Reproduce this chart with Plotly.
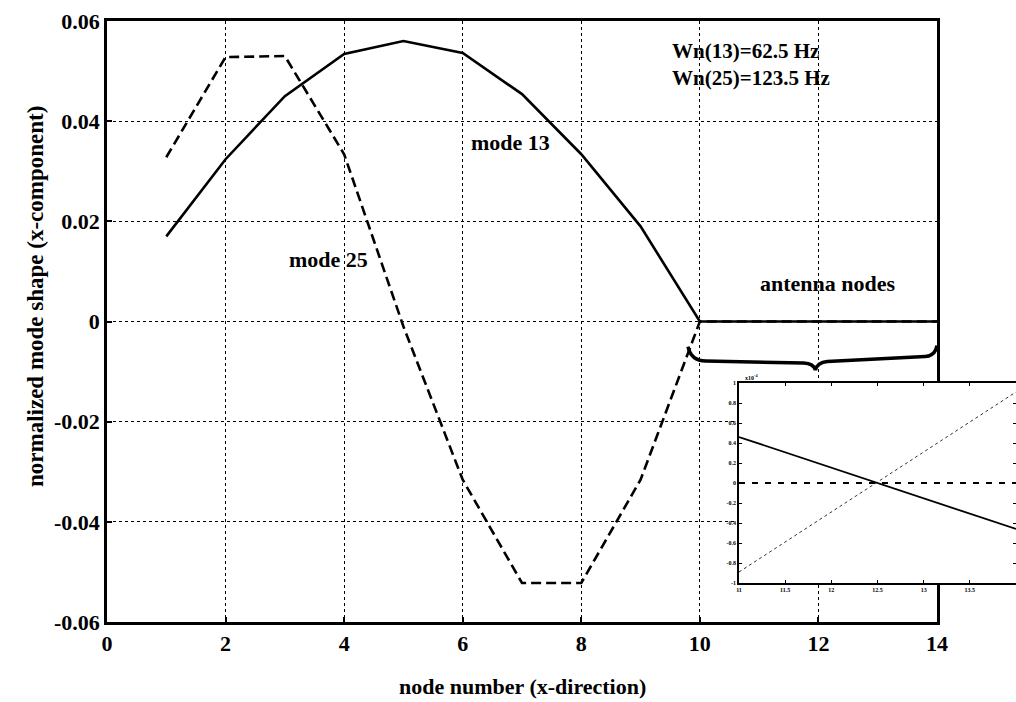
import plotly.graph_objects as go

# ---------------- data ----------------
nodes = list(range(1, 15))
mode13 = [0.0170, 0.0324, 0.0450, 0.0534, 0.0560, 0.0536, 0.0454, 0.0334, 0.0190,
          0.0000, 0.0000, 0.0000, 0.0000, 0.0000]
mode25 = [0.0328, 0.0528, 0.0530, 0.0334, -0.0010, -0.0316, -0.0522, -0.0522, -0.0316,
          0.0000, 0.0000, 0.0000, 0.0000, 0.0000]

x_tick_vals = [0, 2, 4, 6, 8, 10, 12, 14]
y_tick_vals = [-0.06, -0.04, -0.02, 0, 0.02, 0.04, 0.06]
y_tick_text = ["-0.06", "-0.04", "-0.02", "0", "0.02", "0.04", "0.06"]

# inset (x10^-4)
inset_x = [11, 14]
inset_solid = [0.46, -0.46]
inset_dashed = [0.0, 0.0]
inset_dotted = [-0.89, 0.91]
inset_x_ticks = [11, 11.5, 12, 12.5, 13, 13.5]
inset_x_text = ["11", "11.5", "12", "12.5", "13", "13.5"]
inset_y_ticks = [-1, -0.8, -0.6, -0.4, -0.2, 0, 0.2, 0.4, 0.6, 0.8, 1]
inset_y_text = ["-1", "-0.8", "-0.6", "-0.4", "-0.2", "0", "0.2", "0.4", "0.6", "0.8", "1"]

# ---------------- layout geometry ----------------
W, H = 1016, 702
ML, MR, MT, MB = 107, 0, 21, 80
PW = W - ML - MR
PH = H - MT - MB
main_right_px = 937
inset_left_px, inset_top_px, inset_bottom_px = 739, 383, 583

def px_x(p):
    return (p - ML) / PW

def px_y(p):
    return (H - MB - p) / PH

FONT = "Liberation Serif"

fig = go.Figure()

fig.add_trace(go.Scatter(x=nodes, y=mode25, mode="lines",
                         line=dict(color="black", width=2.6, dash="10px,5px"),
                         hoverinfo="skip", showlegend=False))
fig.add_trace(go.Scatter(x=nodes, y=mode13, mode="lines",
                         line=dict(color="black", width=2.6),
                         hoverinfo="skip", showlegend=False))

# inset traces
fig.add_trace(go.Scatter(x=inset_x, y=inset_dotted, mode="lines", xaxis="x2", yaxis="y2",
                         line=dict(color="#333333", width=1, dash="dot"),
                         hoverinfo="skip", showlegend=False))
fig.add_trace(go.Scatter(x=inset_x, y=inset_dashed, mode="lines", xaxis="x2", yaxis="y2",
                         line=dict(color="black", width=2, dash="6px,7px"),
                         hoverinfo="skip", showlegend=False))
fig.add_trace(go.Scatter(x=inset_x, y=inset_solid, mode="lines", xaxis="x2", yaxis="y2",
                         line=dict(color="black", width=1.8),
                         hoverinfo="skip", showlegend=False))

tickfont = dict(family=FONT, size=22, color="black", weight="bold")
small_font = dict(family=FONT, size=6, color="black", weight="bold")

fig.update_layout(
    template="none",
    width=W, height=H,
    margin=dict(l=ML, r=MR, t=MT, b=MB, pad=0, autoexpand=False),
    paper_bgcolor="white", plot_bgcolor="white",
    showlegend=False,
    xaxis=dict(domain=[0, px_x(main_right_px)], range=[0, 14], automargin=False,
               tickvals=x_tick_vals, ticktext=[str(v) for v in x_tick_vals],
               tickfont=tickfont, ticks="inside", ticklen=5, tickwidth=2, tickcolor="black",
               showline=True, linecolor="black", linewidth=2.5, mirror=True,
               showgrid=True, gridcolor="black", gridwidth=1.2, griddash="dot",
               zeroline=False, fixedrange=True),
    yaxis=dict(domain=[0, 1], range=[-0.06, 0.06], automargin=False,
               tickvals=y_tick_vals, ticktext=y_tick_text,
               tickfont=tickfont, ticks="inside", ticklen=5, tickwidth=2, tickcolor="black",
               showline=True, linecolor="black", linewidth=2.5, mirror=True,
               showgrid=True, gridcolor="black", gridwidth=1.2, griddash="dot",
               zeroline=False, fixedrange=True),
    xaxis2=dict(domain=[px_x(inset_left_px), 1], range=[11, 14], anchor="y2", automargin=False,
                tickvals=inset_x_ticks, ticktext=inset_x_text, tickfont=small_font,
                ticks="inside", ticklen=3, tickcolor="black",
                showline=True, linecolor="black", linewidth=1.5, mirror="ticks",
                showgrid=False, zeroline=False, fixedrange=True),
    yaxis2=dict(domain=[px_y(inset_bottom_px), px_y(inset_top_px)], range=[-1, 1], anchor="x2",
                automargin=False,
                tickvals=inset_y_ticks, ticktext=inset_y_text, tickfont=small_font,
                ticks="inside", ticklen=3, tickcolor="black",
                showline=True, linecolor="black", linewidth=1.5, mirror="ticks",
                showgrid=False, zeroline=False, fixedrange=True),
)

ann_font = dict(family=FONT, size=22, color="black", weight="bold")
freq_font = dict(family=FONT, size=21, color="black", weight="bold")
title_font = dict(family=FONT, size=23, color="black", weight="bold")

annotations = [
    dict(text="Wn(13)=62.5 Hz<br>Wn(25)=123.5 Hz", x=9.50, y=0.0514, xref="x", yref="y",
         xanchor="left", yanchor="middle", align="left", showarrow=False, font=freq_font),
    dict(text="mode 13", x=6.8, y=0.0358, xref="x", yref="y",
         xanchor="center", yanchor="middle", showarrow=False, font=ann_font),
    dict(text="mode 25", x=3.73, y=0.0124, xref="x", yref="y",
         xanchor="center", yanchor="middle", showarrow=False, font=ann_font),
    dict(text="antenna nodes", x=12.16, y=0.0076, xref="x", yref="y",
         xanchor="center", yanchor="middle", showarrow=False, font=ann_font),
    dict(text="node number (x-direction)", x=px_x(522), y=px_y(686), xref="paper", yref="paper",
         xanchor="center", yanchor="middle", showarrow=False, font=ann_font),
    dict(text="normalized mode shape (x-component)", x=px_x(35), y=px_y(297),
         xref="paper", yref="paper", textangle=-90,
         xanchor="center", yanchor="middle", showarrow=False, font=title_font),
    dict(text="x10<sup>-4</sup>", x=px_x(743), y=px_y(377), xref="paper", yref="paper",
         xanchor="left", yanchor="middle", showarrow=False, font=small_font),
]
fig.update_layout(annotations=annotations)

# curly brace under the antenna nodes (data coordinates)
brace = ("M 9.80,-0.0050 Q 9.85,-0.0078 10.10,-0.0079 L 11.75,-0.0083 "
         "Q 11.92,-0.0084 11.95,-0.0097 Q 11.98,-0.0082 12.15,-0.0080 "
         "L 13.80,-0.0070 Q 13.97,-0.0069 14.00,-0.0048")
fig.add_shape(type="path", path=brace, xref="x", yref="y",
              line=dict(color="black", width=3.5))

fig.write_html("out.html")
